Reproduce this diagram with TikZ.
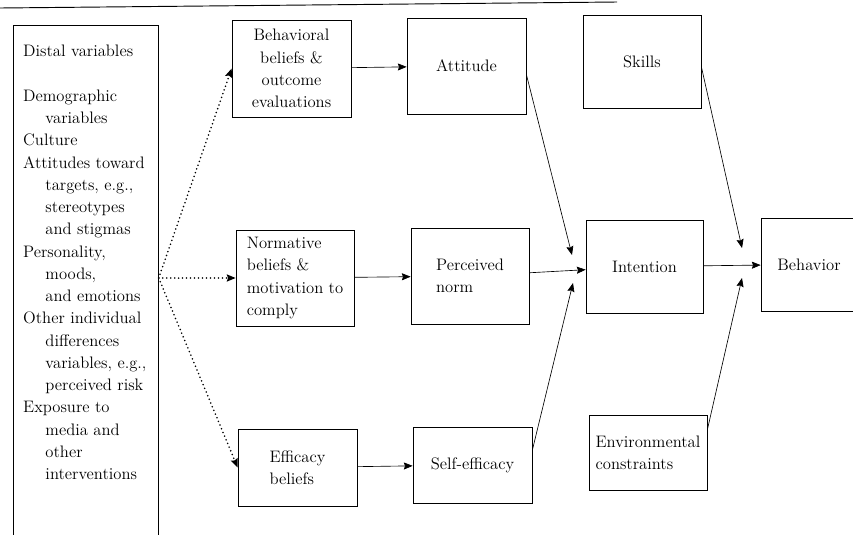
\documentclass[tikz,border=0pt]{standalone}
\usetikzlibrary{arrows.meta}
\newcommand{\distind}{\hspace*{19pt}}
\begin{document}
\begin{tikzpicture}[x=0.3mm,y=-0.3mm,line cap=butt,line join=miter,>={Stealth[length=7.5pt,width=6pt,inset=1pt]},font=\fontsize{14.2}{19}\selectfont]
            \tikzset{box/.style={draw,line width=.6pt,inner sep=2pt,align=left},
                dotarrow/.style={->,line width=1.5pt,line cap=round,dash pattern=on 0pt off 3.4pt},
                link/.style={->,line width=.55pt}
            }
            \path[use as bounding box,clip] (0,0) rectangle (853,534);
            \draw[line width=.8pt] (0,8)--(617,2);
            \node[draw,line width=.6pt,minimum width=4.35cm,minimum height=15.6cm,anchor=north west,inner sep=0pt] (frame) at (13,25) {};
            \node[anchor=north west,align=left,inner sep=0pt] (distal) at (23,45) {Distal variables\\[19pt]
                Demographic\\ \distind variables\\ Culture\\ Attitudes toward\\ \distind targets, e.g.,\\
                \distind stereotypes\\ \distind and stigmas\\ Personality,\\ \distind moods,\\ \distind and emotions\\
                Other individual\\ \distind differences\\ \distind variables, e.g.,\\ \distind perceived risk\\
                Exposure to\\ \distind media and\\ \distind other\\ \distind interventions};
            \node[box,align=center,minimum width=3.57cm,minimum height=2.91cm] (bbel) at (291.5,68.5) {Behavioral\\beliefs \&\\outcome\\evaluations};
            \node[box,minimum width=3.57cm,minimum height=2.88cm] (att) at (466.5,66) {Attitude};
            \node[box,minimum width=3.54cm,minimum height=2.88cm] (nbel) at (295,278) {Normative\\beliefs \&\\motivation to\\comply};
            \node[box,minimum width=3.54cm,minimum height=2.88cm] (pnorm) at (470,276) {Perceived\\norm};
            \node[box,minimum width=3.57cm,minimum height=2.31cm] (ebel) at (297.5,467.5) {Efficacy\\beliefs};
            \node[box,minimum width=3.57cm,minimum height=2.28cm] (seff) at (472.5,465) {Self-efficacy};
            \node[box,minimum width=3.54cm,minimum height=2.79cm] (skill) at (642,61.5) {Skills};
            \node[box,minimum width=3.51cm,minimum height=2.79cm] (inten) at (644.5,266.5) {Intention};
            \node[box,minimum width=2.88cm,minimum height=2.79cm] (behav) at (809,264.5) {Behavior};
            \node[box,minimum width=3.54cm,minimum height=2.25cm] (env) at (648,452.5) {Environmental\\constraints};
            \coordinate (fork) at (frame.east |- nbel.west);
            \coordinate (tipA) at (572,255);
            \coordinate (tipS) at (573,283);
            \coordinate (tipK) at (742,248);
            \coordinate (tipE) at (742,278);
            \draw[dotarrow] (fork)--(bbel.west);
            \draw[dotarrow] (fork)--(nbel.west);
            \draw[dotarrow] (fork)--(ebel.west);
            \draw[link] (bbel)--(att);
            \draw[link] (nbel)--(pnorm);
            \draw[link] (ebel)--(seff);
            \draw[link] (att.-8)--(tipA);
            \draw[link] (pnorm)--(inten);
            \draw[link] (seff.14)--(tipS);
            \draw[link] (inten)--(behav);
            \draw[link] (skill.-5)--(tipK);
            \draw[link] (env.21)--(tipE);
    \end{tikzpicture}
\end{document}
